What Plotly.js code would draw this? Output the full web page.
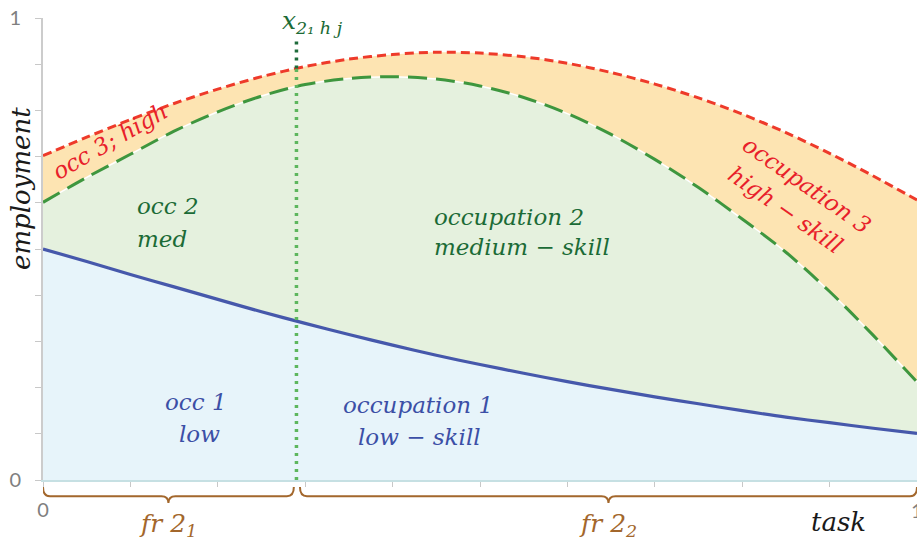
<!DOCTYPE html>
<html>
<head>
<meta charset="utf-8">
<script src="https://cdn.plot.ly/plotly-3.0.1.min.js"></script>
<style>html,body{margin:0;padding:0;background:#fff;}#chart{width:917px;height:540px;}</style>
</head>
<body>
<div id="chart"></div>
<script>
// task share (x axis)
const task = [0, 0.05, 0.1, 0.15, 0.2, 0.25, 0.3, 0.35, 0.4, 0.45, 0.5, 0.55, 0.6, 0.65, 0.7, 0.75, 0.8, 0.85, 0.9, 0.95, 1.0];
// cumulative employment boundaries
const occ1Low = [0.500, 0.473, 0.445, 0.418, 0.391, 0.364, 0.339, 0.315, 0.292, 0.270, 0.250, 0.231, 0.213, 0.196, 0.180, 0.165, 0.150, 0.136, 0.124, 0.112, 0.101];
const occ2Med = [0.601, 0.655, 0.705, 0.755, 0.797, 0.831, 0.856, 0.869, 0.873, 0.868, 0.853, 0.828, 0.793, 0.748, 0.694, 0.633, 0.565, 0.493, 0.408, 0.313, 0.212];
const occ3High = [0.702, 0.742, 0.780, 0.815, 0.846, 0.873, 0.895, 0.911, 0.921, 0.926, 0.924, 0.916, 0.902, 0.882, 0.857, 0.827, 0.792, 0.752, 0.707, 0.658, 0.606];
// threshold task x_{2_1 h j}
const x21 = 0.29;
const x21Top = 0.957;
const frSplit = [0, 0.287, 0.294, 1];
const yTickVals = [0, 0.1, 0.2, 0.3, 0.4, 0.5, 0.6, 0.7, 0.8, 0.9, 1];
const yTickText = ['0', '', '', '', '', '', '', '', '', '', '1'];
const xTickVals = [0, 0.1, 0.2, 0.3, 0.4, 0.5, 0.6, 0.7, 0.8, 0.9, 1];
const xTickText = ['0', '', '', '', '', '', '', '', '', '', ''];

function interp(xs, ys, x) {
  for (let i = 0; i < xs.length - 1; i++) {
    if (x >= xs[i] && x <= xs[i + 1]) {
      const t = (x - xs[i]) / (xs[i + 1] - xs[i]);
      return ys[i] + t * (ys[i + 1] - ys[i]);
    }
  }
  return ys[ys.length - 1];
}
const redAtX21 = interp(task, occ3High, x21);

const MATH = 'DejaVu Serif';
const SM = 0.9;
const traces = [
  {x: task, y: occ1Low, mode: 'lines', line: {width: 0, shape: 'spline', smoothing: SM}, fill: 'tozeroy', fillcolor: '#e7f4fa', hoverinfo: 'skip'},
  {x: task, y: occ2Med, mode: 'lines', line: {width: 0, shape: 'spline', smoothing: SM}, fill: 'tonexty', fillcolor: '#e5f1de', hoverinfo: 'skip'},
  {x: task, y: occ3High, mode: 'lines', line: {width: 0, shape: 'spline', smoothing: SM}, fill: 'tonexty', fillcolor: '#fde4b2', hoverinfo: 'skip'},
  {x: task, y: occ2Med, mode: 'lines', line: {width: 1.5, color: '#ffffff', shape: 'spline', smoothing: SM}, hoverinfo: 'skip'},
  {x: task, y: occ2Med, mode: 'lines', line: {width: 3, color: '#3e963e', dash: '19px,9px', shape: 'spline', smoothing: SM}},
  {x: task, y: occ3High, mode: 'lines', line: {width: 3, color: '#ee3a2a', dash: '9px,5px', shape: 'spline', smoothing: SM}},
  {x: task, y: occ1Low, mode: 'lines', line: {width: 3.2, color: '#4658ab', shape: 'spline', smoothing: SM}},
  {x: [x21, x21], y: [0, redAtX21], mode: 'lines', line: {width: 3.5, color: '#5db65d', dash: '3px,5px'}},
  {x: [x21, x21], y: [redAtX21, x21Top], mode: 'lines', line: {width: 3.5, color: '#1e6b3a', dash: '3px,5px'}}
];

const brown = '#a3672c';
function brace(x0, x1) {
  const xc = (x0 + x1) / 2, yTop = -0.015, yMid = -0.035, yBot = -0.05, d = 0.008;
  return {
    type: 'path', xref: 'x', yref: 'paper',
    path: `M ${x0},${yTop} Q ${x0},${yMid} ${x0 + d},${yMid} L ${xc - d},${yMid} Q ${xc},${yMid} ${xc},${yBot} Q ${xc},${yMid} ${xc + d},${yMid} L ${x1 - d},${yMid} Q ${x1},${yMid} ${x1},${yTop}`,
    line: {color: brown, width: 2}
  };
}

function lab(text, x, y, color, opts) {
  return Object.assign({text: text, x: x, y: y, xref: 'x', yref: 'y', showarrow: false,
    font: {family: MATH, size: 23, color: color, style: 'italic'}}, opts || {});
}
const blue = '#3b4fa6', green = '#1b6b36', red = '#e8202a';

const layout = {
  width: 917, height: 540,
  margin: {l: 43, r: 0, t: 18, b: 60},
  paper_bgcolor: '#ffffff', plot_bgcolor: '#ffffff',
  showlegend: false,
  xaxis: {range: [0, 1], tickvals: xTickVals, ticktext: xTickText, ticks: 'outside', ticklen: 5, tickcolor: '#c8c8c8', tickwidth: 1,
    showgrid: false, zeroline: false, showline: true, linecolor: '#c6e0e3', linewidth: 2,
    ticklabelstandoff: 6, tickfont: {family: 'Lato', size: 20, color: '#7f7f7f'}, fixedrange: true},
  yaxis: {range: [0, 1], tickvals: yTickVals, ticktext: yTickText, ticks: 'outside', ticklen: 6, tickcolor: '#c8c8c8', tickwidth: 1,
    showgrid: false, zeroline: false, showline: true, linecolor: '#cccccc', linewidth: 2,
    ticklabelstandoff: 10, tickfont: {family: 'Lato', size: 20, color: '#7f7f7f'}, fixedrange: true},
  shapes: [brace(frSplit[0], frSplit[1]), brace(frSplit[2], frSplit[3])],
  annotations: [
    lab('occ 3; high', 0.077, 0.733, red, {textangle: -30}),
    lab('occ 2', 0.105, 0.594, green, {xanchor: 'left'}),
    lab('med', 0.105, 0.522, green, {xanchor: 'left'}),
    lab('occupation 2', 0.533, 0.570, green),
    lab('medium − skill', 0.548, 0.505, green),
    lab('occ 1', 0.175, 0.168, blue),
    lab('low', 0.179, 0.100, blue),
    lab('occupation 1', 0.429, 0.162, blue),
    lab('low − skill', 0.431, 0.093, blue),
    lab('occupation 3', 0.874, 0.639, red, {textangle: 35}),
    lab('high − skill', 0.850, 0.585, red, {textangle: 35}),
    {text: 'x<sub>2₁ h j</sub>', x: 0.308, y: 0.992, xref: 'x', yref: 'paper', showarrow: false, yanchor: 'middle',
      font: {family: MATH, size: 25, color: green, style: 'italic'}},
    {text: '1', x: 1, y: -0.066, xref: 'x', yref: 'paper', showarrow: false, yanchor: 'middle', xanchor: 'center',
      font: {family: 'Lato', size: 20, color: '#7f7f7f'}},
    {text: 'fr 2<sub>1</sub>', x: (frSplit[0] + frSplit[1]) / 2, y: -0.097, xref: 'x', yref: 'paper', showarrow: false, yanchor: 'middle',
      font: {family: MATH, size: 25, color: brown, style: 'italic'}},
    {text: 'fr 2<sub>2</sub>', x: (frSplit[2] + frSplit[3]) / 2, y: -0.097, xref: 'x', yref: 'paper', showarrow: false, yanchor: 'middle',
      font: {family: MATH, size: 25, color: brown, style: 'italic'}},
    {text: 'task', x: 0.91, y: -0.09, xref: 'x', yref: 'paper', showarrow: false, yanchor: 'middle',
      font: {family: MATH, size: 26, color: '#1a1a1a', style: 'italic'}},
    {text: 'employment', x: 0, xshift: -22, y: 0.63, xref: 'paper', yref: 'paper', showarrow: false, textangle: -90,
      xanchor: 'center', yanchor: 'middle', font: {family: MATH, size: 26, color: '#1a1a1a', style: 'italic'}}
  ]
};

Plotly.newPlot('chart', traces, layout, {displayModeBar: false, staticPlot: true});
</script>
</body>
</html>
